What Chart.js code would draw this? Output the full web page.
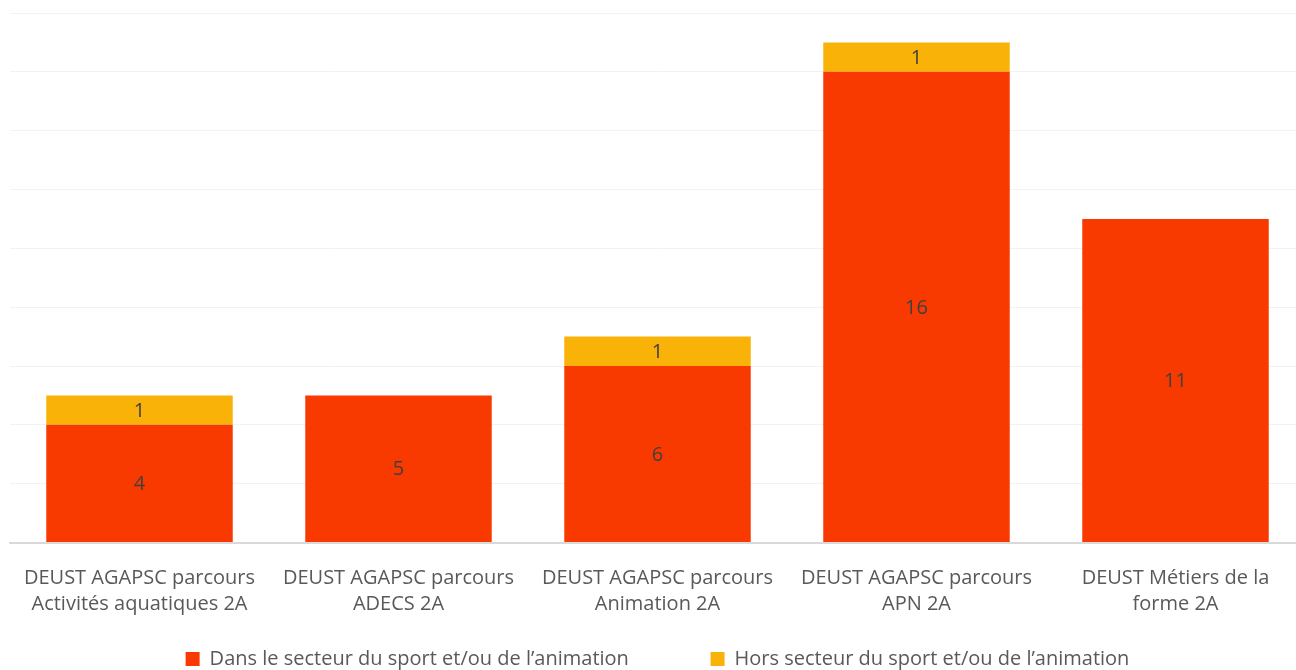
<!DOCTYPE html>
<html>
<head>
<meta charset="utf-8">
<script src="https://cdn.jsdelivr.net/npm/chart.js@4/dist/chart.umd.min.js"></script>
<style>
  html, body { margin: 0; padding: 0; background: #fff; overflow: hidden; }
  /* slightly larger than the window: the original plot runs past the right/bottom edge */
  #wrap { width: 1305px; height: 679px; }
</style>
</head>
<body>
<div id="wrap"><canvas id="myChart"></canvas></div>
<script>
const categories = [
  ["DEUST AGAPSC parcours", "Activités aquatiques 2A"],
  ["DEUST AGAPSC parcours", "ADECS 2A"],
  ["DEUST AGAPSC parcours", "Animation 2A"],
  ["DEUST AGAPSC parcours", "APN 2A"],
  ["DEUST Métiers de la", "forme 2A"],
];
const dansSecteur = [4, 5, 6, 16, 11];
const horsSecteur = [1, 0, 1, 1, 0];

// value labels in the middle of each segment (skip zeros)
const valueLabels = {
  id: "valueLabels",
  afterDatasetsDraw(chart) {
    const ctx = chart.ctx;
    ctx.save();
    ctx.font = "20px 'Open Sans'";
    ctx.fillStyle = "#404040";
    ctx.textAlign = "center";
    ctx.textBaseline = "middle";
    chart.data.datasets.forEach((ds, i) => {
      chart.getDatasetMeta(i).data.forEach((bar, j) => {
        if (!ds.data[j]) return;
        const p = bar.getProps(["x", "y", "base"], true);
        ctx.fillText(ds.data[j], p.x, (p.y + p.base) / 2 + 1);
      });
    });
    ctx.restore();
  },
};

const cxx = document.getElementById("myChart").getContext("2d");
new Chart(cxx, {
  type: "bar",
  data: {
    labels: categories,
    datasets: [
      {
        label: "Dans le secteur du sport et/ou de l’animation",
        data: dansSecteur,
        backgroundColor: "#F83A00",
        barPercentage: 0.72,
        categoryPercentage: 1,
      },
      {
        label: "Hors secteur du sport et/ou de l’animation",
        data: horsSecteur,
        backgroundColor: "#F9B208",
        barPercentage: 0.72,
        categoryPercentage: 1,
      },
    ],
  },
  options: {
    responsive: true,
    maintainAspectRatio: false,
    animation: false,
    layout: { padding: { top: 13, left: 10, right: 0, bottom: 0 } },
    scales: {
      x: {
        stacked: true,
        grid: { display: false },
        border: { color: "#d9d9d9", width: 2 },
        ticks: {
          color: "#595959",
          font: { family: "'Open Sans'", size: 20, lineHeight: 1.3 },
          padding: 15,
          maxRotation: 0,
          autoSkip: false,
        },
      },
      y: {
        stacked: true,
        min: 0,
        max: 18,
        ticks: { display: false, stepSize: 2 },
        grid: { color: "#f2f2f2", drawTicks: false },
        border: { display: false },
      },
    },
    plugins: {
      legend: {
        position: "bottom",
        labels: {
          color: "#595959",
          font: { family: "'Open Sans'", size: 20 },
          boxWidth: 14,
          boxHeight: 14,
          padding: 16.5,
          // wider gap after the first entry, like the original
          generateLabels(chart) {
            const items = Chart.defaults.plugins.legend.labels.generateLabels(chart);
            items[0].text += "\u2003\u2003\u2003 ";
            return items;
          },
        },
      },
      tooltip: { enabled: false },
    },
  },
  plugins: [valueLabels],
});
</script>
</body>
</html>
